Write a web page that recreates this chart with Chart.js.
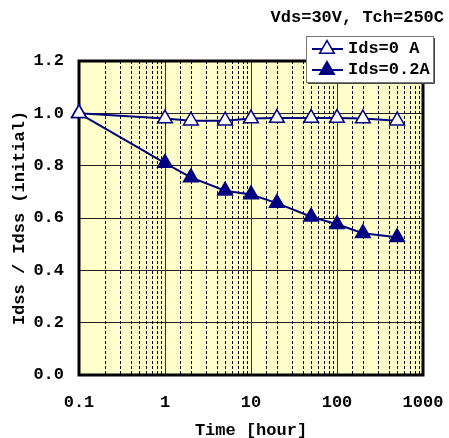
<!DOCTYPE html>
<html>
<head>
<meta charset="utf-8">
<script src="https://cdn.jsdelivr.net/npm/chart.js@4.4.0/dist/chart.umd.min.js"></script>
<style>
  html, body { margin: 0; padding: 0; background: #fff; }
</style>
</head>
<body>
<canvas id="chart" width="449" height="438"></canvas>
<script>
// values
const hours = [0.1, 1, 2, 5, 10, 20, 50, 100, 200, 500];
const ids0A = [1.0, 0.98, 0.972, 0.972, 0.98, 0.982, 0.982, 0.982, 0.98, 0.972];
const ids02A = [1.0, 0.81, 0.755, 0.704, 0.69, 0.657, 0.605, 0.576, 0.542, 0.526];
const seriesLabels = ['Ids=0 A', 'Ids=0.2A'];
const xTickLabels = ['0.1', '1', '10', '100', '1000'];
const titleText = 'Vds=30V, Tch=250C';

const FONT = '"Liberation Mono", "Courier New", monospace';
const NAVY = '#000080';

function isDecade(v) {
  const l = Math.log10(v);
  return Math.abs(l - Math.round(l)) < 1e-9;
}

function toPoints(ys) {
  return hours.map((h, i) => ({ x: h, y: ys[i] }));
}

// background, dashed minor grid, thick frame, title and legend
const frame = {
  id: 'frame',
  beforeDraw(chart) {
    const { ctx, chartArea: a } = chart;
    ctx.save();
    ctx.fillStyle = '#ffffcc';
    ctx.fillRect(a.left, a.top, a.right - a.left, a.bottom - a.top);
    ctx.restore();
  },
  beforeDatasetsDraw(chart) {
    const { ctx, chartArea: a, scales: { x } } = chart;
    ctx.save();
    ctx.strokeStyle = '#000';
    ctx.lineWidth = 1;
    ctx.setLineDash([3, 2]);
    x.ticks.forEach((t) => {
      if (isDecade(t.value)) return;
      const px = Math.round(x.getPixelForValue(t.value)) + 0.5;
      ctx.beginPath();
      ctx.moveTo(px, a.top);
      ctx.lineTo(px, a.bottom);
      ctx.stroke();
    });
    ctx.setLineDash([]);
    ctx.lineWidth = 3;
    ctx.strokeRect(a.left, a.top, a.right - a.left, a.bottom - a.top);
    ctx.restore();
  },
  afterDraw(chart) {
    const { ctx } = chart;
    ctx.save();
    ctx.font = 'bold 17px ' + FONT;
    ctx.fillStyle = '#000';
    ctx.textBaseline = 'middle';
    ctx.textAlign = 'right';
    ctx.fillText(titleText, 444, 18);

    // legend box
    const bx = 306, by = 36, bw = 127, bh = 46;
    ctx.fillStyle = '#fff';
    ctx.fillRect(bx, by, bw, bh);
    ctx.strokeStyle = '#777';
    ctx.lineWidth = 1;
    ctx.strokeRect(bx + 0.5, by + 0.5, bw, bh);
    ctx.strokeStyle = '#444';
    ctx.beginPath();
    ctx.moveTo(bx + bw + 1.5, by + 2);
    ctx.lineTo(bx + bw + 1.5, by + bh + 1.5);
    ctx.lineTo(bx + 2, by + bh + 1.5);
    ctx.stroke();

    chart.data.datasets.forEach((ds, i) => {
      const y = 49 + i * 21;
      ctx.strokeStyle = NAVY;
      ctx.lineWidth = 2;
      ctx.beginPath();
      ctx.moveTo(312, y);
      ctx.lineTo(343, y);
      ctx.stroke();
      ctx.fillStyle = ds.pointBackgroundColor;
      ctx.strokeStyle = NAVY;
      ctx.lineWidth = 1.5;
      Chart.helpers.drawPoint(ctx, { pointStyle: 'triangle', radius: 8.5, rotation: 0, borderWidth: 1.5 }, 327, y);
      ctx.fillStyle = '#000';
      ctx.textAlign = 'left';
      ctx.fillText(ds.label, 348, y);
    });
    ctx.restore();
  }
};

Chart.defaults.font.family = FONT;
Chart.defaults.font.size = 17;
Chart.defaults.font.weight = 'bold';
Chart.defaults.color = '#000';

new Chart(document.getElementById('chart'), {
  type: 'line',
  data: {
    datasets: [
      {
        label: seriesLabels[0],
        data: toPoints(ids0A),
        borderColor: NAVY,
        borderWidth: 2,
        pointStyle: 'triangle',
        pointRadius: 8.5,
        pointBackgroundColor: '#fff',
        pointBorderColor: NAVY,
        pointBorderWidth: 1.5,
        tension: 0,
        clip: false
      },
      {
        label: seriesLabels[1],
        data: toPoints(ids02A),
        borderColor: NAVY,
        borderWidth: 2,
        pointStyle: 'triangle',
        pointRadius: 8.5,
        pointBackgroundColor: NAVY,
        pointBorderColor: NAVY,
        pointBorderWidth: 1.5,
        tension: 0,
        clip: false
      }
    ]
  },
  options: {
    responsive: false,
    animation: false,
    devicePixelRatio: 1,
    layout: { padding: { top: 61, right: 26, left: 0, bottom: 0 } },
    plugins: {
      legend: { display: false },
      tooltip: { enabled: false }
    },
    scales: {
      x: {
        type: 'logarithmic',
        min: 0.1,
        max: 1000,
        afterFit: (s) => {
          s.height = 63;
          s.paddingLeft = 0;
          s.paddingRight = 0;
        },
        border: { display: false },
        grid: {
          drawTicks: false,
          lineWidth: 1,
          color: (c) => (c.tick && isDecade(c.tick.value) ? '#333' : 'rgba(0,0,0,0)')
        },
        ticks: {
          autoSkip: false,
          maxRotation: 0,
          minRotation: 0,
          padding: 18,
          callback: (v) => (isDecade(v) ? xTickLabels[Math.round(Math.log10(v)) + 1] : '')
        },
        title: {
          display: true,
          text: 'Time [hour]',
          padding: { top: 0, bottom: -3 }
        }
      },
      y: {
        min: 0,
        max: 1.2,
        afterFit: (s) => {
          s.width = 79;
          s.paddingTop = 0;
          s.paddingBottom = 0;
        },
        border: { display: false },
        grid: { drawTicks: false, color: '#222', lineWidth: 1 },
        ticks: {
          stepSize: 0.2,
          padding: 15,
          callback: (v) => v.toFixed(1)
        },
        title: {
          display: true,
          text: 'Idss / Idss (initial)',
          padding: { top: 10, bottom: 0 }
        }
      }
    }
  },
  plugins: [frame]
});
</script>
</body>
</html>
